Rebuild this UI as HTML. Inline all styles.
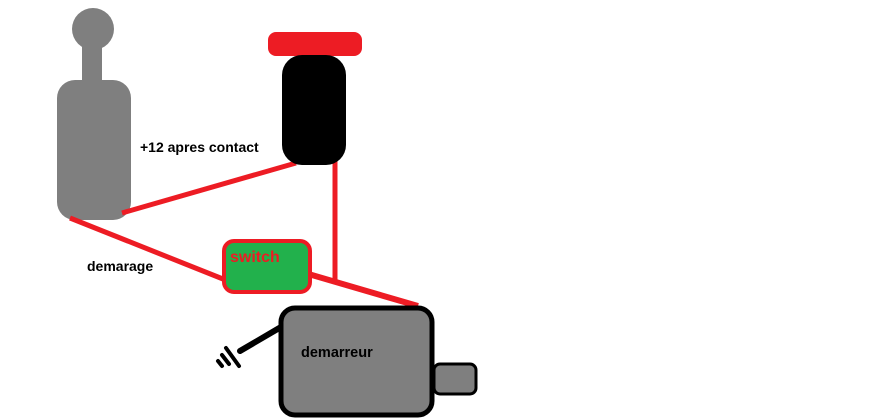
<!DOCTYPE html>
<html><head><meta charset="utf-8"><style>
html,body{margin:0;padding:0;background:#fff;width:881px;height:419px;overflow:hidden}
text{font-family:"Liberation Sans",sans-serif;font-weight:bold}
</style></head><body>
<svg width="881" height="419" viewBox="0 0 881 419" xmlns="http://www.w3.org/2000/svg">
<circle cx="93" cy="29" r="21" fill="#7f7f7f"/>
<rect x="82" y="45" width="20" height="40" fill="#7f7f7f"/>
<rect x="57" y="80" width="74" height="140" rx="18" fill="#7f7f7f"/>
<line x1="122" y1="213" x2="296" y2="163" stroke="#ed1c24" stroke-width="5"/>
<line x1="335" y1="160" x2="335" y2="284" stroke="#ed1c24" stroke-width="5"/>
<line x1="70" y1="218" x2="228" y2="281" stroke="#ed1c24" stroke-width="5"/>
<line x1="305" y1="273" x2="418" y2="306" stroke="#ed1c24" stroke-width="6"/>
<rect x="268" y="32" width="94" height="24" rx="8" fill="#ed1c24"/>
<rect x="282" y="55" width="64" height="110" rx="20" fill="#000"/>
<rect x="224" y="241" width="86" height="51" rx="10" fill="#22b14c" stroke="#ed1c24" stroke-width="4"/>
<text x="230" y="262" font-size="16" fill="#ed1c24">switch</text>
<line x1="240" y1="351" x2="281" y2="327" stroke="#000" stroke-width="6" stroke-linecap="round"/>
<line x1="226" y1="348" x2="239" y2="366" stroke="#000" stroke-width="4" stroke-linecap="round"/>
<line x1="222" y1="355" x2="229" y2="364" stroke="#000" stroke-width="4" stroke-linecap="round"/>
<line x1="218" y1="361" x2="222" y2="366" stroke="#000" stroke-width="4" stroke-linecap="round"/>
<rect x="434" y="364" width="42" height="30" rx="6" fill="#7f7f7f" stroke="#000" stroke-width="3"/>
<rect x="281" y="308" width="151" height="107" rx="14" fill="#7f7f7f" stroke="#000" stroke-width="5"/>
<text x="301" y="357" font-size="14.5" fill="#000">demarreur</text>
<text x="140" y="152" font-size="14" fill="#000">+12 apres contact</text>
<text x="87" y="271" font-size="14" fill="#000">demarage</text>
</svg>
</body></html>
